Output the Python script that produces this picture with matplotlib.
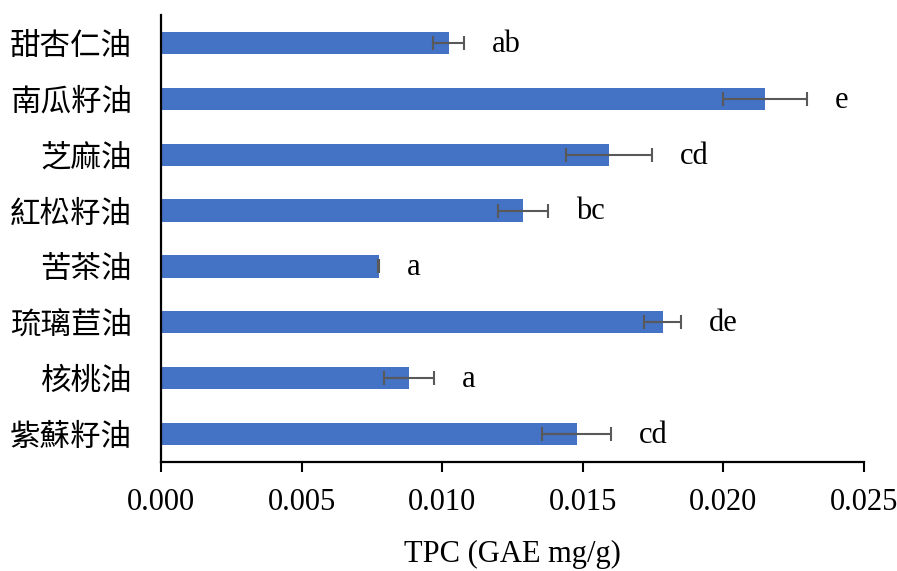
import numpy as np
import matplotlib
matplotlib.use("Agg")
import matplotlib.pyplot as plt

# data
oils = ["甜杏仁油", "南瓜籽油", "芝麻油", "紅松籽油", "苦茶油", "琉璃苣油", "核桃油", "紫蘇籽油"]
tpc = [0.01024, 0.02148, 0.01592, 0.01288, 0.00774, 0.01784, 0.00882, 0.01478]
tpc_err = [0.00055, 0.00151, 0.00153, 0.00090, 0.00003, 0.00066, 0.00089, 0.00123]
letters = ["ab", "e", "cd", "bc", "a", "de", "a", "cd"]
xticks = [0.000, 0.005, 0.010, 0.015, 0.020, 0.025]

plt.rcParams["font.family"] = ["Liberation Serif", "DejaVu Serif"]

fig = plt.figure(figsize=(8.97, 5.71), dpi=100)
ax = fig.add_axes([0.1795, 0.1909, 0.7837, 0.7828])

y = np.arange(len(oils))
ax.barh(y, tpc, height=0.4, color="#4472C4")
ax.errorbar(tpc, y, xerr=tpc_err, fmt="none", ecolor="#595959",
            elinewidth=1.5, capsize=5, capthick=1.5)

# significance letters just right of the error bars
for yi, v, e, lab in zip(y, tpc, tpc_err, letters):
    ax.annotate(lab, (v + e, yi), xytext=(20, -1), textcoords="offset points",
                va="center", ha="left", fontsize=22)

ax.set_xlim(0, 0.025)
ax.set_ylim(len(oils) - 0.5, -0.5)
ax.set_xticks(xticks)
ax.set_xticklabels([f"{t:.3f}" for t in xticks], fontsize=22)
ax.set_yticks(y)
ax.set_yticklabels(oils, fontsize=22, family=["Noto Sans CJK TC"])
ax.tick_params(axis="x", direction="out", length=7, width=1.5, pad=12)
ax.tick_params(axis="y", length=0, pad=21)

for s in ["top", "right"]:
    ax.spines[s].set_visible(False)
ax.spines["left"].set_linewidth(1.6)
ax.spines["bottom"].set_linewidth(1.6)

ax.set_xlabel("TPC (GAE mg/g)", fontsize=22, labelpad=16)

fig.savefig("out.png", dpi=100)
